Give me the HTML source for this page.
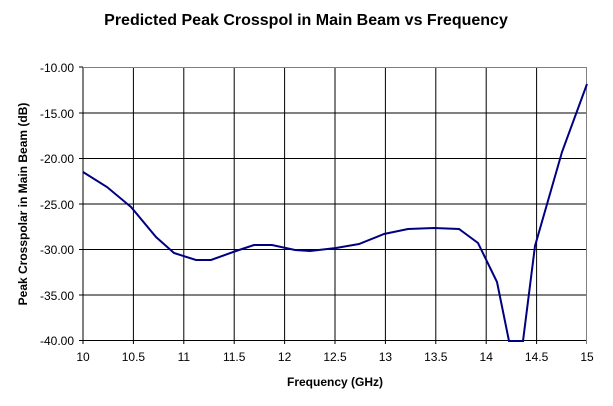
<!DOCTYPE html>
<html><head><style>body{margin:0;background:#fff}</style></head><body>
<svg width="613" height="401" xmlns="http://www.w3.org/2000/svg" font-family="Liberation Sans, Arial, sans-serif">
<rect width="613" height="401" fill="#fff"/>
<text x="306" y="25" text-anchor="middle" font-size="16" font-weight="bold">Predicted Peak Crosspol in Main Beam vs Frequency</text>
<g stroke="#000" stroke-width="1">
<line x1="83" y1="113" x2="587" y2="113"/><line x1="83" y1="158.5" x2="587" y2="158.5"/>
<line x1="83" y1="204" x2="587" y2="204"/><line x1="83" y1="249.5" x2="587" y2="249.5"/>
<line x1="83" y1="295" x2="587" y2="295"/>
<line x1="133.4" y1="67" x2="133.4" y2="344"/><line x1="183.8" y1="67" x2="183.8" y2="344"/>
<line x1="234.2" y1="67" x2="234.2" y2="344"/><line x1="284.6" y1="67" x2="284.6" y2="344"/>
<line x1="335" y1="67" x2="335" y2="344"/><line x1="385.4" y1="67" x2="385.4" y2="344"/>
<line x1="435.8" y1="67" x2="435.8" y2="344"/><line x1="486.2" y1="67" x2="486.2" y2="344"/>
<line x1="536.6" y1="67" x2="536.6" y2="344"/>
<line x1="83" y1="67" x2="83" y2="344"/><line x1="79" y1="340.5" x2="587" y2="340.5"/>
<line x1="79" y1="67" x2="83" y2="67"/><line x1="79" y1="113" x2="83" y2="113"/><line x1="79" y1="158.5" x2="83" y2="158.5"/><line x1="79" y1="204" x2="83" y2="204"/><line x1="79" y1="249.5" x2="83" y2="249.5"/><line x1="79" y1="295" x2="83" y2="295"/>
</g>
<line x1="83" y1="67.5" x2="587" y2="67.5" stroke="#808080"/>
<line x1="586.5" y1="67" x2="586.5" y2="344" stroke="#808080"/>
<polyline fill="none" stroke="#000080" stroke-width="2" points="83,172 107,187 131,207 156,237 174,253 196,260 211,260 236,251 254,245 272,245 295,250 310,251 336,248 359,244 384,234 408,229 434,228 459,229 478,243 497,282 509,341 523,341 535,246 562,152 587,84"/>
<g font-size="12" text-anchor="end">
<text x="74" y="72">-10.00</text><text x="74" y="118">-15.00</text><text x="74" y="163">-20.00</text>
<text x="74" y="209">-25.00</text><text x="74" y="254">-30.00</text><text x="74" y="300">-35.00</text><text x="74" y="345">-40.00</text>
</g>
<g font-size="12" text-anchor="middle">
<text x="83" y="361">10</text><text x="133.4" y="361">10.5</text><text x="183.8" y="361">11</text><text x="234.2" y="361">11.5</text>
<text x="284.6" y="361">12</text><text x="335" y="361">12.5</text><text x="385.4" y="361">13</text><text x="435.8" y="361">13.5</text>
<text x="486.2" y="361">14</text><text x="536.6" y="361">14.5</text><text x="587" y="361">15</text>
</g>
<text x="335" y="386" text-anchor="middle" font-size="12" font-weight="bold">Frequency (GHz)</text>
<text transform="translate(27,204) rotate(-90)" text-anchor="middle" font-size="12" font-weight="bold">Peak Crosspolar in Main Beam (dB)</text>
</svg>
</body></html>
